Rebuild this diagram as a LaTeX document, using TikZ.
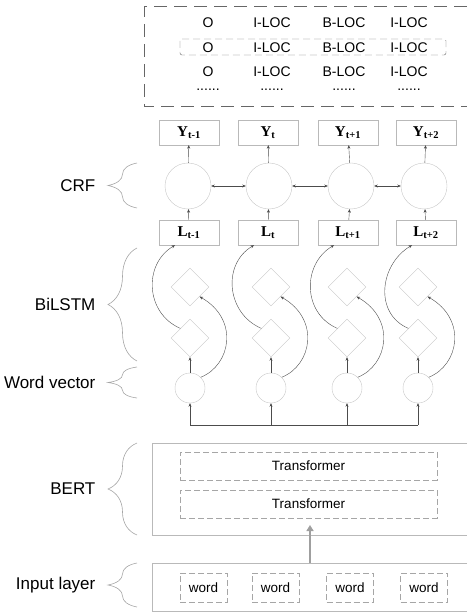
\documentclass[tikz,border=0pt]{standalone}
\usepackage{fontspec}
\setmainfont{Liberation Sans}
\newfontfamily\tnr{Liberation Serif}
\usetikzlibrary{shapes.geometric, decorations.pathreplacing, arrows.meta}

\newcommand{\lab}[2]{{\tnr\bfseries\fontsize{15}{16}\selectfont #1\textsubscript{#2}}}

\begin{document}
\begin{tikzpicture}[x = 1pt, y = -1pt,
	box/.style = {draw = gray!55, minimum width = 60pt, minimum height = 25pt, inner sep = 0pt},
	cell/.style = {circle, draw = gray!45, minimum size = 46pt, inner sep = 0pt},
	gate/.style = {diamond, draw = gray!45, minimum size = 38pt, inner sep = 0pt},
	vec/.style = {circle, draw = gray!45, minimum size = 30pt, inner sep = 0pt},
	dbox/.style = {draw = gray!70, dash pattern = on 6pt off 3pt, inner sep = 0pt, font = \fontsize{13.5}{15}\selectfont},
	arr/.style = {-{Stealth[length = 3.5pt, width = 3pt]}, draw = black!70},
	arrs/.style = {{Stealth[length = 3.5pt, width = 3pt]}-{Stealth[length = 3.5pt, width = 3pt]}, draw = black!70},
	lbl/.style = {anchor = east, font = \fontsize{17}{20}\selectfont},
	tag/.style = {anchor = base, font = \fontsize{14}{16}\selectfont},
	brc/.style = {draw = gray!70, line width = 0.6pt, decorate, decoration = {brace, amplitude = 29pt}}]
	\useasboundingbox (0,0) rectangle (467,612);

	% output tags
	\draw[draw = black!60, line width = 1pt, dash pattern = on 13pt off 7pt]
	(467,7) -| (144,107) -- (467,107);
	\draw[draw = black!60, dash pattern = on 7pt off 4pt, rounded corners = 2pt]
	(180,39) rectangle (446,55);
	\path
	(208,28) node[tag](o1){O}	(272,28) node[tag](a1){I-LOC}	(344,28) node[tag](b1){B-LOC}	(409,28) node[tag](c1){I-LOC}
	(208,52.5) node[tag](o2){O}	(272,52.5) node[tag](a2){I-LOC}	(344,52.5) node[tag](b2){B-LOC}	(409,52.5) node[tag](c2){I-LOC}
	(208,77) node[tag](o3){O}	(272,77) node[tag](a3){I-LOC}	(344,77) node[tag](b3){B-LOC}	(409,77) node[tag](c3){I-LOC}
	(208,91) node[tag](o4){......}	(272,91) node[tag](a4){......}	(344,91) node[tag](b4){......}	(409,91) node[tag](c4){......};

	% CRF
	\path
	(189,132.5) node[box](Y1){\lab{Y}{t-1}}	%Y
	(268,132.5) node[box](Y2){\lab{Y}{t}}
	(348,132.5) node[box](Y3){\lab{Y}{t+1}}
	(426,132.5) node[box](Y4){\lab{Y}{t+2}}
	(188,186) node[cell](C1){}	%CRF cells
	(269,186) node[cell](C2){}
	(351,186) node[cell](C3){}
	(424,186) node[cell](C4){}
	(189,232.5) node[box](L1){\lab{L}{t-1}}	%L
	(268,232.5) node[box](L2){\lab{L}{t}}
	(348,232.5) node[box](L3){\lab{L}{t+1}}
	(426,232.5) node[box](L4){\lab{L}{t+2}};
	\draw[arr] (C1) -- (Y1);
	\draw[arr] (C2) -- (Y2);
	\draw[arr] (C3) -- (Y3);
	\draw[arr] (C4) -- (Y4);
	\draw[arr] (L1) -- (C1);
	\draw[arr] (L2) -- (C2);
	\draw[arr] (L3) -- (C3);
	\draw[arr] (L4) -- (C4);
	\draw[arrs] (C1) -- (C2);
	\draw[arrs] (C2) -- (C3);
	\draw[arrs] (C3) -- (C4);

	% BiLSTM + word vectors
	\path
	(190,287) node[gate](F1){}	(190,338) node[gate](B1){}	(190,388) node[vec](W1){}
	(271,287) node[gate](F2){}	(271,338) node[gate](B2){}	(271,388) node[vec](W2){}
	(347,287) node[gate](F3){}	(347,338) node[gate](B3){}	(347,388) node[vec](W3){}
	(418,287) node[gate](F4){}	(418,338) node[gate](B4){}	(418,388) node[vec](W4){};
	\draw[arr] (W1) -- (B1);
	\draw[arr] (W2) -- (B2);
	\draw[arr] (W3) -- (B3);
	\draw[arr] (W4) -- (B4);
	\draw[arr] (B1.north west) .. controls +(-35,-15) and +(-32,19) .. ([xshift = -14pt]L1.south);
	\draw[arr] (B2.north west) .. controls +(-35,-15) and +(-32,19) .. ([xshift = -14pt]L2.south);
	\draw[arr] (B3.north west) .. controls +(-35,-15) and +(-32,19) .. ([xshift = -14pt]L3.south);
	\draw[arr] (B4.north west) .. controls +(-35,-15) and +(-32,19) .. ([xshift = -14pt]L4.south);
	\draw[arr] (W1.north east) .. controls +(30,-12) and +(40,23) .. (F1.south east);
	\draw[arr] (W2.north east) .. controls +(30,-12) and +(40,23) .. (F2.south east);
	\draw[arr] (W3.north east) .. controls +(30,-12) and +(40,23) .. (F3.south east);
	\draw[arr] (W4.north east) .. controls +(30,-12) and +(40,23) .. (F4.south east);
	\coordinate (bus) at (0,425);
	\draw[draw = black!70] (W1.south |- bus) -- (W4.south |- bus);
	\draw[arr] (W1.south |- bus) -- (W1);
	\draw[arr] (W2.south |- bus) -- (W2);
	\draw[arr] (W3.south |- bus) -- (W3);
	\draw[arr] (W4.south |- bus) -- (W4);

	% BERT
	\draw[draw = gray!55] (467,443) -| (152,535) -- (467,535);
	\path
	(308.5,466) node[dbox, minimum width = 257pt, minimum height = 28pt](T1){Transformer}
	(308.5,504) node[dbox, minimum width = 257pt, minimum height = 28pt](T2){Transformer};

	% input layer
	\draw[draw = gray!55] (467,563) -| (152,611) -- (467,611);
	\coordinate (inp) at (310,563);
	\path
	(203.5,587.5) node[dbox, minimum width = 47pt, minimum height = 29pt](w1){word}
	(275.5,587.5) node[dbox, minimum width = 47pt, minimum height = 29pt](w2){word}
	(350,587.5) node[dbox, minimum width = 47pt, minimum height = 29pt](w3){word}
	(424,587.5) node[dbox, minimum width = 47pt, minimum height = 29pt](w4){word};
	\draw[-{Triangle[length = 6pt, width = 7pt]}, draw = gray!75, line width = 2pt]
	(inp) -- (inp |- 0,525);

	% braces
	\draw[brc] (137,208) -- (137,163) node[lbl, midway, xshift = -38pt](crf){CRF};
	\draw[brc] (137,361) -- (137,248) node[lbl, midway, xshift = -38pt](lstm){BiLSTM};
	\draw[brc] (137,398) -- (137,367) node[lbl, midway, xshift = -38pt](wv){Word vector};
	\draw[brc] (137,535) -- (137,443) node[lbl, midway, xshift = -38pt](bert){BERT};
	\draw[brc] (137,607) -- (137,563) node[lbl, midway, xshift = -38pt](il){Input layer};
\end{tikzpicture}
\end{document}
